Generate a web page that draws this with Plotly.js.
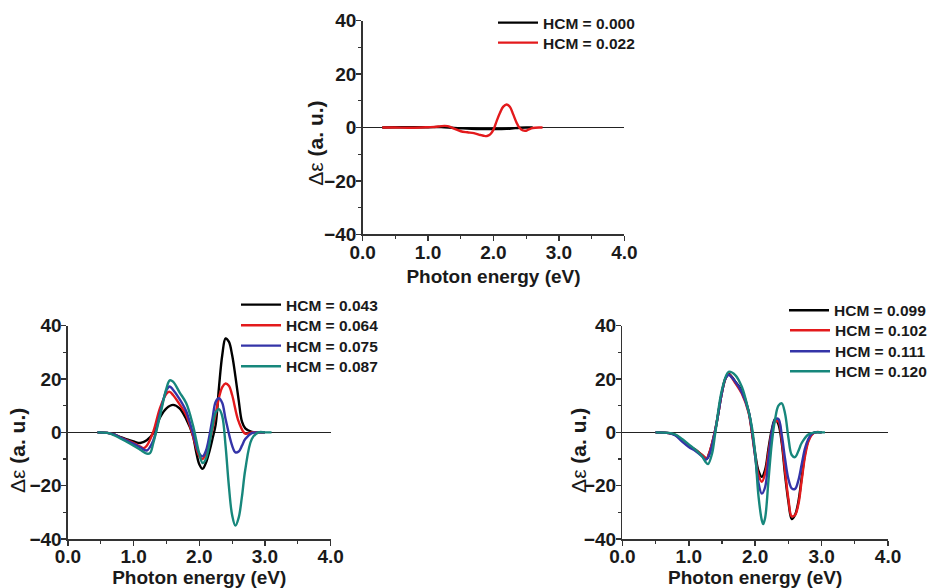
<!DOCTYPE html>
<html>
<head>
<meta charset="utf-8">
<script src="https://cdn.plot.ly/plotly-3.0.1.min.js"></script>
<style>html,body{margin:0;padding:0;background:#fff}#chart{width:932px;height:588px}</style>
</head>
<body>
<div id="chart"></div>
<script>
// ---------- Top panel ----------
const topX_000 = [0.3,0.5,0.8,1.0,1.2,1.4,1.6,1.8,2.0,2.2,2.3,2.4,2.5,2.6];
const topY_000 = [0,0.1,0.1,0.1,0.2,-0.2,-0.4,-0.6,-0.6,-0.5,-0.3,-0.1,0,0];
const topX_022 = [0.3,0.5,0.7,0.9,1.0,1.1,1.2,1.25,1.3,1.4,1.5,1.6,1.7,1.8,1.85,1.9,1.95,2.0,2.05,2.1,2.15,2.2,2.25,2.3,2.35,2.4,2.45,2.5,2.55,2.6,2.7,2.75];
const topY_022 = [0,0,-0.1,0,0.1,0.2,0.5,0.6,0.5,-0.4,-1.4,-1.8,-2.1,-2.8,-3.1,-3.2,-2.6,-0.8,2.5,5.5,7.8,8.6,7.8,5,2,-0.2,-1.1,-1.2,-0.6,-0.2,0,0];

// ---------- Bottom-left panel ----------
const blX_043 = [0.45,0.6,0.7,0.8,0.9,1.0,1.1,1.2,1.3,1.4,1.5,1.6,1.7,1.8,1.9,1.95,2.0,2.05,2.1,2.15,2.2,2.25,2.3,2.35,2.4,2.45,2.5,2.55,2.6,2.65,2.7,2.8,2.9,3.0];
const blY_043 = [0,-0.2,-0.8,-1.8,-2.6,-3.4,-4,-3,-0.3,5.5,9,10.3,9,5,-1,-7,-12,-13.7,-11.5,-7.5,-2.5,3,17,29,35.2,34,29,21,12,4,1.5,0.2,0,0];
const blX_064 = [0.45,0.6,0.7,0.8,0.9,1.0,1.1,1.15,1.2,1.3,1.4,1.5,1.55,1.6,1.7,1.8,1.9,2.0,2.05,2.1,2.2,2.3,2.35,2.4,2.45,2.5,2.6,2.7,2.8,2.9,3.0];
const blY_064 = [0,-0.2,-0.8,-2,-3,-4,-5.3,-5.9,-5,0.3,9,14.5,15.2,14,10.5,6.5,-1,-9,-10,-8,1,13,17,18.3,17.5,14,4,-0.5,0,0,0];
const blX_075 = [0.45,0.6,0.7,0.8,0.9,1.0,1.1,1.2,1.3,1.4,1.5,1.55,1.6,1.7,1.8,1.9,2.0,2.05,2.1,2.2,2.25,2.3,2.35,2.4,2.5,2.55,2.6,2.65,2.7,2.8,2.9,3.0];
const blY_075 = [0,-0.2,-0.8,-2,-3.2,-4.3,-5.6,-6.8,-3,7,15.8,17.2,16,12.5,8,0,-8,-9,-7,5,11.5,12.8,11,5,-5,-7.5,-7.2,-5,-2.5,-0.3,0,0];
const blX_087 = [0.45,0.6,0.7,0.8,0.9,1.0,1.1,1.2,1.25,1.3,1.4,1.5,1.55,1.6,1.7,1.8,1.9,2.0,2.05,2.1,2.2,2.25,2.3,2.35,2.4,2.45,2.5,2.55,2.6,2.65,2.7,2.8,2.9,3.0,3.1];
const blY_087 = [0,-0.2,-1,-2.3,-3.6,-5,-6.5,-8,-7.8,-4,6,16.5,19.5,19,15,11,3,-8,-11.5,-10,2,7.5,8.7,6,-5,-20,-31,-35,-32,-24,-14,-2.5,0,0,0];

// ---------- Bottom-right panel ----------
const brX_099 = [0.5,0.7,0.8,0.9,1.0,1.1,1.2,1.27,1.3,1.4,1.5,1.55,1.6,1.7,1.8,1.9,1.95,2.0,2.05,2.1,2.15,2.2,2.25,2.3,2.35,2.4,2.45,2.5,2.55,2.6,2.65,2.7,2.75,2.8,2.85,2.9,3.0];
const brY_099 = [0,-0.3,-1,-3,-5,-6.5,-8.5,-9.9,-8.5,1,15,20,22,19,15.5,8,0.5,-8,-14.5,-16.7,-14,-6,1,5,3,-4,-16,-26,-32.5,-31,-26,-17,-8,-3,-0.8,0,0];
const brX_102 = [0.5,0.7,0.8,0.9,1.0,1.1,1.2,1.27,1.3,1.4,1.5,1.55,1.6,1.7,1.8,1.9,1.95,2.0,2.05,2.1,2.15,2.2,2.25,2.3,2.35,2.4,2.45,2.5,2.55,2.6,2.65,2.7,2.75,2.8,2.85,2.9,3.0];
const brY_102 = [0,-0.3,-1,-3,-5,-6.5,-8.5,-9.8,-8.3,1.2,15,20,21.8,18.5,14.5,7.5,0,-9,-16,-18.5,-15.5,-7.5,0,4.2,4,-3,-14.5,-25,-31.5,-31,-27,-18,-9,-3.5,-1,0,0];
const brX_111 = [0.5,0.7,0.8,0.9,1.0,1.1,1.2,1.25,1.3,1.4,1.5,1.55,1.6,1.7,1.8,1.9,1.95,2.0,2.05,2.1,2.15,2.2,2.25,2.3,2.35,2.4,2.45,2.5,2.55,2.6,2.65,2.7,2.75,2.8,2.85,2.9,3.0];
const brY_111 = [0,-0.3,-1.2,-3.5,-5.5,-7,-9,-10.3,-9,1,15,20,21.5,19,15,8,1,-9,-19,-23,-20.5,-10,0,4.8,5,-1,-10,-17.5,-21,-21.2,-18,-12,-6,-2.5,-0.6,0,0];
const brX_120 = [0.5,0.7,0.8,0.9,1.0,1.1,1.2,1.25,1.29,1.35,1.4,1.5,1.6,1.7,1.8,1.9,1.95,2.0,2.05,2.1,2.12,2.15,2.2,2.25,2.3,2.35,2.4,2.45,2.5,2.55,2.6,2.65,2.7,2.8,2.9,3.0,3.05];
const brY_120 = [0,-0.2,-0.8,-2.5,-4.5,-6.5,-9,-11,-11.9,-8,0,16,22.7,21.5,17,8,2,-8,-24,-33,-34.4,-32,-18,-4,5,10,10.9,7,-2,-8.5,-9.3,-7,-4,-0.8,0,0,0];

const labels = {
  top: ['HCM = 0.000', 'HCM = 0.022'],
  bl: ['HCM = 0.043', 'HCM = 0.064', 'HCM = 0.075', 'HCM = 0.087'],
  br: ['HCM = 0.099', 'HCM = 0.102', 'HCM = 0.111', 'HCM = 0.120']
};
const xTitle = 'Photon energy (eV)';
const yTitle = '<span style="font-weight:normal">Δε</span> (a. u.)';

const COLORS = ['#000000', '#e31a1c', '#3434a8', '#17877c'];
const TOPCOLORS = ['#000000', '#e31a1c'];

const FONT = 'Liberation Sans, Arial, Helvetica, sans-serif';

function tr(x, y, name, color, xa, ya, leg) {
  return {
    x: x, y: y, name: name, type: 'scatter', mode: 'lines',
    line: {color: color, width: 2.4, shape: 'spline', smoothing: 1},
    xaxis: xa, yaxis: ya, legend: leg, showlegend: true
  };
}

const data = [
  tr(topX_000, topY_000, labels.top[0], TOPCOLORS[0], 'x', 'y', 'legend'),
  tr(topX_022, topY_022, labels.top[1], TOPCOLORS[1], 'x', 'y', 'legend2'),
  tr(blX_043, blY_043, labels.bl[0], COLORS[0], 'x2', 'y2', 'legend3'),
  tr(blX_064, blY_064, labels.bl[1], COLORS[1], 'x2', 'y2', 'legend4'),
  tr(blX_075, blY_075, labels.bl[2], COLORS[2], 'x2', 'y2', 'legend5'),
  tr(blX_087, blY_087, labels.bl[3], COLORS[3], 'x2', 'y2', 'legend6'),
  tr(brX_099, brY_099, labels.br[0], COLORS[0], 'x3', 'y3', 'legend7'),
  tr(brX_102, brY_102, labels.br[1], COLORS[1], 'x3', 'y3', 'legend8'),
  tr(brX_111, brY_111, labels.br[2], COLORS[2], 'x3', 'y3', 'legend9'),
  tr(brX_120, brY_120, labels.br[3], COLORS[3], 'x3', 'y3', 'legend10')
];

function xax(domain, anchor, standoff) {
  return {
    domain: domain, anchor: anchor, range: [0, 4], dtick: 1, tick0: 0, tickformat: '.1f',
    showline: true, linecolor: '#333', linewidth: 1.5, mirror: false,
    ticks: 'outside', ticklen: 5, tickwidth: 1.5, tickcolor: '#333',
    minor: {dtick: 0.5, ticks: 'outside', ticklen: 3, tickwidth: 1.2, tickcolor: '#333'},
    showgrid: false, zeroline: false, fixedrange: true,
    ticklabelstandoff: -5,
    tickfont: {family: FONT, size: 19, color: '#1a1a1a', weight: 700},
    title: {text: xTitle, standoff: standoff, font: {family: FONT, size: 19, color: '#1a1a1a', weight: 700}}
  };
}
function yax(domain, anchor) {
  return {
    domain: domain, anchor: anchor, range: [-40, 40], dtick: 20, tick0: 0,
    showline: true, linecolor: '#333', linewidth: 1.5, mirror: false,
    ticks: 'outside', ticklen: 5, tickwidth: 1.5, tickcolor: '#333',
    minor: {dtick: 10, ticks: 'outside', ticklen: 3, tickwidth: 1.2, tickcolor: '#333'},
    showgrid: false, zeroline: true, zerolinecolor: '#222', zerolinewidth: 1.5, fixedrange: true,
    ticklabelstandoff: -4,
    tickfont: {family: FONT, size: 19, color: '#1a1a1a', weight: 700}
  };
}
// one legend box per entry so each row sits where the reference puts it
function leg(px, rowCenterPx) {
  return {
    x: px / 932, y: 1 - (rowCenterPx - 17) / 588, xanchor: 'left', yanchor: 'top',
    bgcolor: 'rgba(0,0,0,0)', borderwidth: 0,
    font: {family: FONT, size: 15.5, color: '#1a1a1a', weight: 700},
    itemwidth: 40
  };
}
function ytitle(cx, cy) {
  return {
    text: yTitle, xref: 'paper', yref: 'paper', x: cx / 932, y: 1 - cy / 588,
    xanchor: 'center', yanchor: 'middle', textangle: -90, showarrow: false,
    font: {family: FONT, size: 21, color: '#1a1a1a', weight: 700}
  };
}

const layout = {
  width: 932, height: 588,
  margin: {l: 0, r: 0, t: 0, b: 0},
  paper_bgcolor: '#ffffff', plot_bgcolor: '#ffffff',
  showlegend: true,
  xaxis: xax([363/932, 625/932], 'y', 8),
  yaxis: yax([1 - 234.3/588, 1 - 20.7/588], 'x'),
  xaxis2: xax([68/932, 331/932], 'y2', 2),
  yaxis2: yax([1 - 539/588, 1 - 325.7/588], 'x2'),
  xaxis3: xax([623/932, 889/932], 'y3', 2),
  yaxis3: yax([1 - 539/588, 1 - 325.7/588], 'x3'),
  legend: leg(493, 23), legend2: leg(493, 43),
  legend3: leg(236, 305), legend4: leg(236, 325.7), legend5: leg(236, 346), legend6: leg(236, 366.7),
  legend7: leg(785, 310.7), legend8: leg(785, 330.7), legend9: leg(785, 351.7), legend10: leg(785, 371.7),
  annotations: [ytitle(315, 143), ytitle(17, 450), ytitle(578.5, 450)]
};

Plotly.newPlot('chart', data, layout, {displayModeBar: false, staticPlot: true});
</script>
</body>
</html>
